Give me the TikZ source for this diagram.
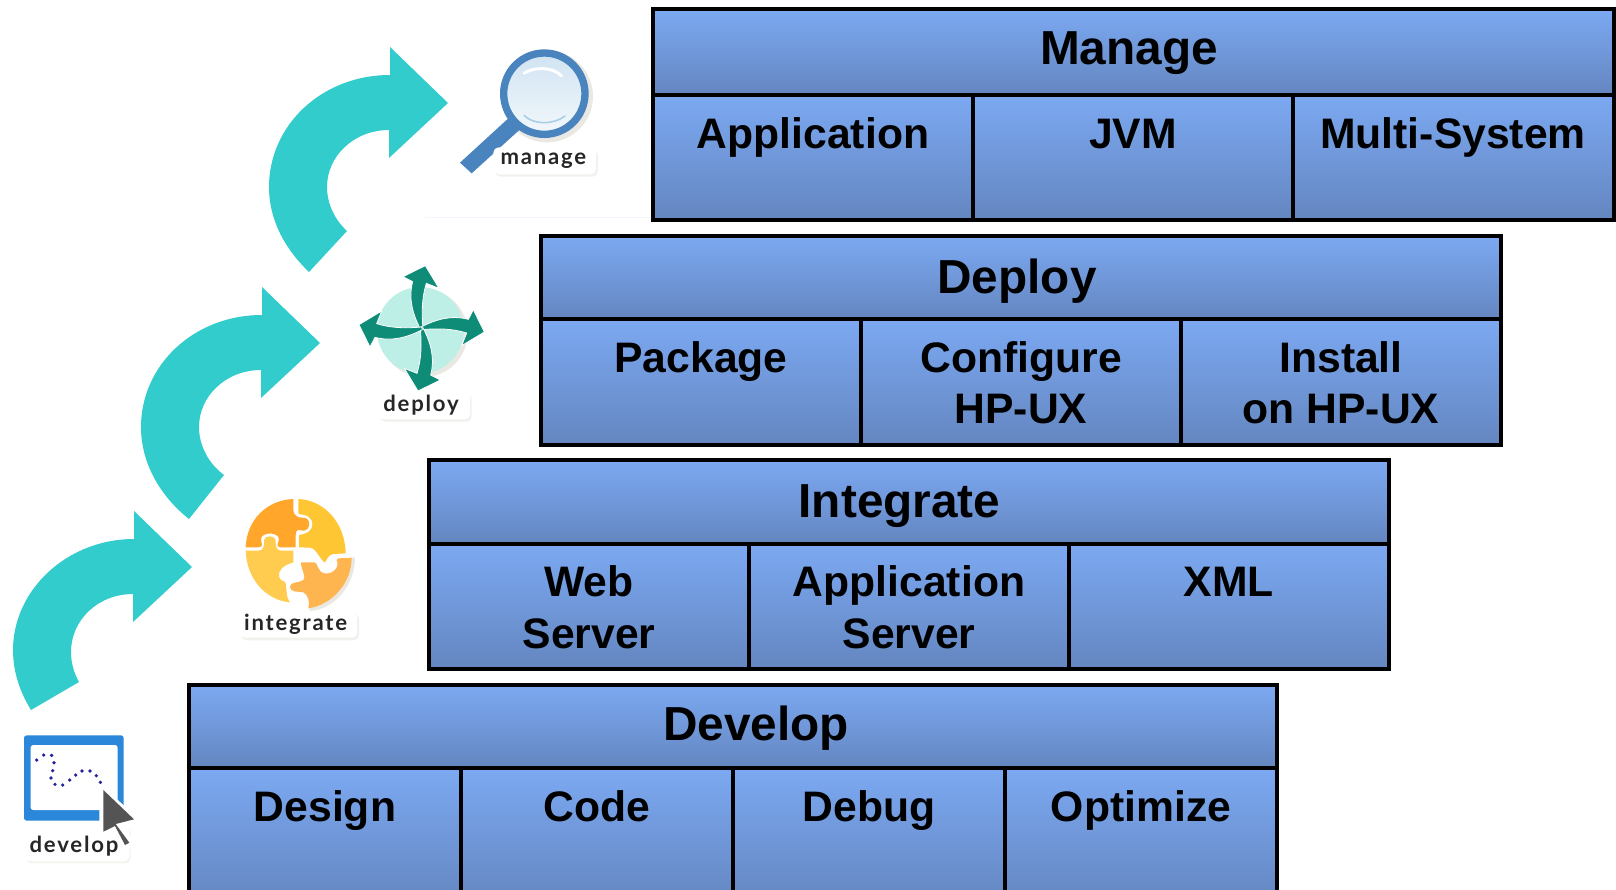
\documentclass[tikz,border=0pt]{standalone}
\usepackage{fontspec}
\setmainfont{Liberation Sans}
\newfontfamily\iconfont{Lato}[LetterSpace=8]
\definecolor{celltop}{HTML}{7CA9F2}
\definecolor{cellbot}{HTML}{6486C0}
\definecolor{teal}{HTML}{33CCCC}
\definecolor{ringblue}{HTML}{4A84BE}
\definecolor{frameblue}{HTML}{2B87D9}
\definecolor{deep}{HTML}{0E8C78}
\definecolor{pale}{HTML}{BDEFE6}
\definecolor{shadow}{HTML}{EAE8E2}
\definecolor{puzA}{HTML}{FFA62B}
\definecolor{puzB}{HTML}{FFC634}
\definecolor{puzC}{HTML}{FFCC50}
\definecolor{puzD}{HTML}{FFB54F}
\definecolor{lensT}{HTML}{D0E3F2}
\definecolor{lensB}{HTML}{F2F8FB}
\definecolor{lensA}{HTML}{A9CFE8}
\definecolor{dotblue}{HTML}{22229A}
\tikzset{
  cellbox/.style={draw=black,line width=2.4pt,top color=celltop,bottom color=cellbot,
    anchor=north west,inner sep=0pt,outer sep=0pt},
  head/.style={anchor=base,inner sep=0pt,text=black,font=\fontsize{35.8}{40}\selectfont\bfseries},
  sub/.style={anchor=base,inner sep=0pt,text=black,align=center,font=\fontsize{32}{38}\selectfont\bfseries},
  curl/.style={fill=teal,draw=none},
  tag/.style={anchor=base,inner sep=0pt,text=black!85,font=\fontsize{16.6}{18}\iconfont\bfseries},
  zoomed/.style={x=0.25pt,y=-0.25pt}
}
\newcommand{\cellbx}[5]{\node[cellbox,minimum width={(#4-#2)*0.75pt},minimum height={(#5-#3)*0.75pt}] (#1) at (#2,#3) {};}
\begin{document}
\begin{tikzpicture}[x=0.75pt,y=-0.75pt]
\useasboundingbox (0,0) rectangle (1616,889);
\clip (0,0) rectangle (1616,889);
\fill[white] (0,0) rectangle (1616,889);
\draw[color=blue!4,line width=0.5pt] (425,217) -- (650,217);
% curved arrows
\fill[curl] (31,710) .. controls (20,692) and (13,672) .. (13,650) .. controls (13,590) and (67,539) .. (134,539) -- (134,511) -- (192,567) -- (133,622) -- (133,594) .. controls (98,594) and (71,620) .. (71,652) .. controls (71,663) and (74,673) .. (79,682) -- cycle;
\fill[curl] (189,519) .. controls (160,496) and (141,463) .. (141,427) .. controls (141,365) and (194,315) .. (262,315) -- (262,287) -- (320,343) -- (261,398) -- (261,370) .. controls (226,370) and (199,396) .. (199,427) .. controls (199,446) and (209,464) .. (224,475) -- cycle;
\fill[curl] (309,272) .. controls (284,248) and (269,219) .. (269,187) .. controls (269,125) and (322,75) .. (390,75) -- (390,47) -- (448,103) -- (389,158) -- (389,130) .. controls (354,130) and (327,156) .. (327,187) .. controls (327,204) and (335,220) .. (347,231) -- cycle;
% Manage
\cellbx{manageH}{653}{9}{1614}{95}
\cellbx{manageA}{653}{95}{973}{220}
\cellbx{manageB}{973}{95}{1293}{220}
\cellbx{manageC}{1293}{95}{1614}{220}
\node[head] (manageT) at (1129,64) {Manage};
\node[sub] (manageAt) at (813,148) {Application};
\node[sub] (manageBt) at (1133,148) {JVM};
\node[sub] (manageCt) at (1453,148) {Multi-System};
% Deploy
\cellbx{deployH}{541}{236}{1501}{319}
\cellbx{deployA}{541}{319}{861}{445}
\cellbx{deployB}{861}{319}{1181}{445}
\cellbx{deployC}{1181}{319}{1501}{445}
\node[head] (deployT) at (1017,293) {Deploy};
\node[sub] (deployAt) at (701,372) {Package};
\node[sub] (deployBt) at (1021,372) {Configure};
\node[sub] (deployBu) at (1021,423) {HP-UX};
\node[sub] (deployCt) at (1341,372) {Install};
\node[sub] (deployCu) at (1341,423) {on HP-UX};
% Integrate
\cellbx{integH}{429}{460}{1389}{544}
\cellbx{integA}{429}{544}{749}{669}
\cellbx{integB}{749}{544}{1069}{669}
\cellbx{integC}{1069}{544}{1389}{669}
\node[head] (integT) at (899.5,517) {Integrate};
\node[sub] (integAt) at (589,596) {Web};
\node[sub] (integAu) at (589,648) {Server};
\node[sub] (integBt) at (909,596) {Application};
\node[sub] (integBu) at (909,648) {Server};
\node[sub] (integCt) at (1229,596) {XML};
% Develop
\cellbx{devH}{189}{685}{1277}{768}
\cellbx{devA}{189}{768}{461}{905}
\cellbx{devB}{461}{768}{733}{905}
\cellbx{devC}{733}{768}{1005}{905}
\cellbx{devD}{1005}{768}{1277}{905}
\node[head] (devT) at (756,740) {Develop};
\node[sub] (devAt) at (325,821) {Design};
\node[sub] (devBt) at (597,821) {Code};
\node[sub] (devCt) at (869,821) {Debug};
\node[sub] (devDt) at (1141,821) {Optimize};
% develop icon
\begin{scope}[shift={(0,720)},zoomed]
  \fill[shadow!50,rounded corners=4pt] (78,320) rectangle (392,430);
  \fill[white,rounded corners=4pt] (75,315) rectangle (388,424);
  \fill[frameblue,rounded corners=2pt] (72,46) rectangle (371,302);
  \fill[white,rounded corners=2pt] (92,75) rectangle (353,270);
  \foreach \px/\py in {110/120,131/105,155/106,162/128,158/152,153/174,165/193,188/195,209/180,227/165,246/153,270/153,289/167,301/187}
    \fill[dotblue] (\px,\py) circle (5.5);
  \fill[white] (298,190) -- (420,300) -- (370,318) -- (405,375) -- (370,395) -- (335,335) -- (298,350) -- cycle;
  \fill[black!67] (310,210) -- (402,298) -- (347,312) -- (388,368) -- (375,375) -- (345,318) -- (310,335) -- cycle;
  \node[tag] (developL) at (222,396) {develop};
\end{scope}
% integrate icon
\begin{scope}[shift={(225,485)},zoomed]
  \fill[shadow!60,rounded corners=4pt] (48,385) rectangle (402,466);
  \fill[white,rounded corners=4pt] (44,378) rectangle (396,458);
  \fill[shadow] (390,218) .. controls (390,300) and (330,372) .. (255,378) -- (252,366) .. controls (320,358) and (378,295) .. (378,218) -- cycle;
  \fill[puzA] (205,42) -- (205,72) .. controls (205,95) and (222,98) .. (232,98) .. controls (250,96) and (255,112) .. (252,122) .. controls (250,136) and (235,140) .. (225,135) .. controls (213,132) and (212,145) .. (212,150) -- (212,187) -- (165,187) .. controls (150,185) and (162,172) .. (162,162) .. controls (160,140) and (110,140) .. (108,162) .. controls (108,175) and (118,185) .. (100,187) -- (62,187) .. controls (65,105) and (125,45) .. (205,42) -- cycle;
  \fill[puzB] (220,42) .. controls (295,45) and (360,110) .. (362,205) -- (325,207) .. controls (310,208) and (305,225) .. (300,232) .. controls (285,225) and (275,190) .. (255,188) -- (222,187) -- (222,150) .. controls (240,148) and (262,140) .. (262,118) .. controls (262,95) and (240,88) .. (225,88) .. controls (218,88) and (220,78) .. (220,70) -- cycle;
  \fill[puzC] (62,197) -- (100,197) .. controls (120,195) and (117,178) .. (117,165) .. controls (120,150) and (148,150) .. (152,165) .. controls (153,178) and (148,195) .. (170,197) -- (205,197) -- (205,232) .. controls (180,240) and (160,250) .. (162,275) .. controls (165,290) and (180,285) .. (182,295) -- (185,320) .. controls (185,335) and (190,345) .. (195,352) .. controls (120,345) and (65,280) .. (62,197) -- cycle;
  \fill[puzD] (228,232) -- (268,232) .. controls (280,232) and (275,262) .. (300,265) .. controls (325,268) and (345,245) .. (335,225) -- (340,220) -- (380,218) .. controls (380,295) and (320,360) .. (250,370) .. controls (255,350) and (250,330) .. (235,322) .. controls (220,318) and (198,325) .. (195,305) .. controls (195,290) and (220,295) .. (235,285) .. controls (245,275) and (228,255) .. (228,232) -- cycle;
  \node[tag] (integrateL) at (212,437) {integrate};
\end{scope}
% deploy icon
\begin{scope}[shift={(345,255)},zoomed]
  \fill[shadow!60,rounded corners=4pt] (104,418) rectangle (380,500);
  \fill[white,rounded corners=4pt] (100,410) rectangle (375,493);
  \fill[shadow] (236,234) circle (132);
  \fill[pale] (226,226) circle (130);
  \foreach \ang in {0,-90,-180,-270}{
    \fill[deep,draw=white,line width=0.6pt,rotate around={\ang:(230,220)}] (226,222) .. controls (202,175) and (190,130) .. (203,80) -- (174,65) -- (241,32) -- (282,100) -- (244,85) .. controls (230,130) and (230,175) .. (234,220) -- cycle;
  }
  \node[tag] (deployL) at (228,470) {deploy};
\end{scope}
% manage icon
\begin{scope}[shift={(450,40)},zoomed]
  \fill[shadow] (291,169) circle (138);
  \fill[ringblue] (175,235) -- (208,270) -- (65,400) -- (30,368) -- cycle;
  \fill[shadow!60,rounded corners=4pt] (135,330) rectangle (444,410);
  \fill[white,rounded corners=4pt] (130,322) rectangle (438,403);
  \draw[ringblue,line width=5.5pt,top color=lensT,bottom color=lensB] (283,161) circle (122);
  \draw[white,line width=2.2pt,line cap=round] (222,100) .. controls (250,80) and (310,80) .. (335,108);
  \draw[lensA,line width=1.2pt,line cap=round] (222,226) .. controls (250,255) and (310,255) .. (345,228);
  \node[tag] (manageL) at (280,372) {manage};
\end{scope}
\end{tikzpicture}
\end{document}
